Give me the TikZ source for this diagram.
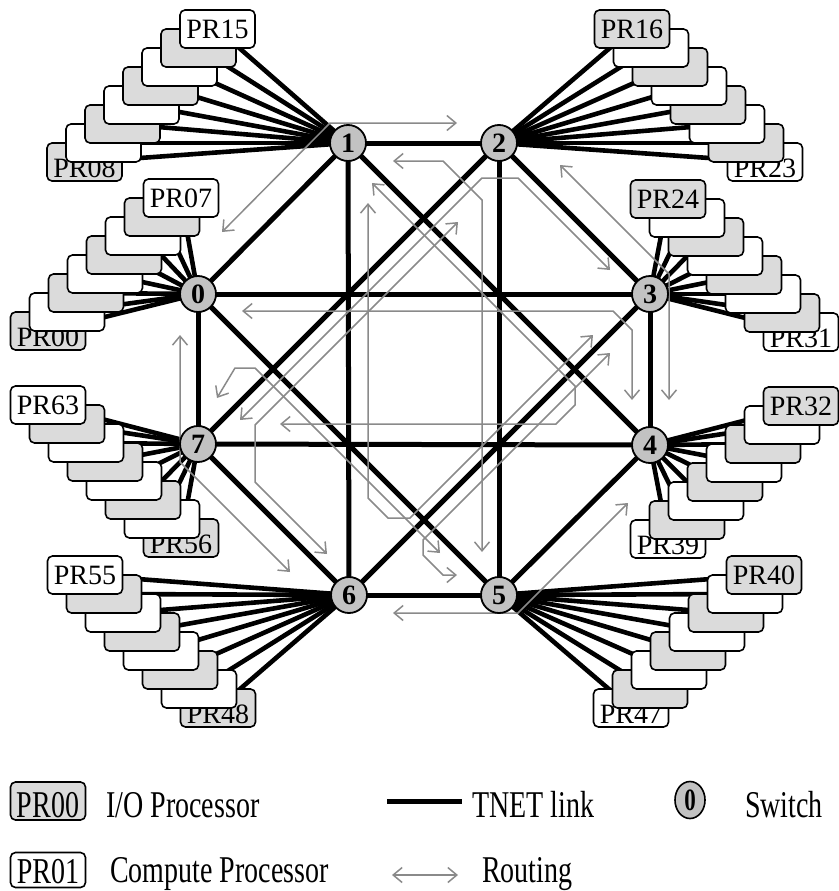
\documentclass[tikz,border=0pt]{standalone}
\usepackage{fontspec}
\setmainfont{Liberation Serif}
\usepackage{graphicx}
\usetikzlibrary{arrows.meta,shapes.geometric}
\pgfdeclarelayer{bg}
\pgfdeclarelayer{mid}
\pgfsetlayers{bg,mid,main}
\definecolor{iogray}{gray}{0.86}
\definecolor{swgray}{gray}{0.76}
\definecolor{routegray}{gray}{0.54}
\tikzset{
  proc/.style={draw, line width=1.6pt, rounded corners=5pt, minimum width=75pt,
    minimum height=38pt, inner sep=0pt, font=\fontsize{28}{30}\selectfont},
  switch/.style={circle, draw, line width=1.8pt, fill=swgray, minimum size=36pt,
    inner sep=0pt, font=\fontsize{28}{30}\selectfont\bfseries},
  tnet/.style={line width=5pt},
  plink/.style={line width=4.6pt},
  route/.style={draw=routegray, line width=1.5pt,
    {Straight Barb[length=9pt,width=15pt]}-{Straight Barb[length=9pt,width=15pt]}},
  lbl/.style={inner sep=0pt, font=\fontsize{28}{30}\selectfont},
}
% #1 Fx, #2 Fy, #3 dx, #4 dy, #5 first number, #6 number step
\newcommand\proccluster[6]{%
  \foreach \k in {0,...,7}{%
    \pgfmathtruncatemacro\n{#5+\k*(#6)}%
    \pgfmathsetmacro\px{#1+\k*(#3)}%
    \pgfmathsetmacro\py{#2+\k*(#4)}%
    \ifodd\n \def\fc{white}\else\def\fc{iogray}\fi
    \edef\nm{\ifnum\n<10 0\fi\n}%
    \node[proc, fill=\fc] (pr\nm) at (\px,\py) {\ifnum\k=7 PR\nm\fi};
    \ifnum\k=0 \node[lbl] (lab\nm) at (\px,\py+6) {PR\nm};\fi
  }%
}
\begin{document}
\begin{tikzpicture}[x=1pt,y=-1pt]
\useasboundingbox (0,0) rectangle (838,891);

% processor clusters (first drawn = covered, last drawn = labelled)
\proccluster{48}{331}{19}{-19}{0}{1}
\proccluster{84.5}{162}{19}{-19}{8}{1}
\proccluster{765}{162}{-19}{-19}{23}{-1}
\proccluster{801}{332}{-19}{-19}{31}{-1}
\proccluster{668}{539}{19}{-19}{39}{-1}
\proccluster{631}{708}{19}{-19}{47}{-1}
\proccluster{218}{708}{-19}{-19}{48}{1}
\proccluster{181}{538}{-19}{-19}{56}{1}

% switches
\node[switch] (s0) at (198,294) {0};
\node[switch] (s1) at (348,143) {1};
\node[switch] (s2) at (499,143) {2};
\node[switch] (s3) at (650,294) {3};
\node[switch] (s4) at (650,445) {4};
\node[switch] (s5) at (499,595) {5};
\node[switch] (s6) at (349,595) {6};
\node[switch] (s7) at (198,444) {7};

\begin{pgfonlayer}{bg}
  % TNET links between switches
  \foreach \a/\b in {0/1,1/2,2/3,3/4,4/5,5/6,6/7,7/0,0/3,7/4,1/6,2/5,1/4,2/7,0/5,3/6}
    \draw[tnet] (s\a.center) -- (s\b.center);
  % links to processors
  \foreach \s in {0,...,7}{
    \foreach \j in {0,...,7}{
      \pgfmathtruncatemacro\n{8*\s+\j}
      \edef\nm{\ifnum\n<10 0\fi\n}
      \draw[plink] (s\s.center) -- (pr\nm.center);
    }
  }
\end{pgfonlayer}

\begin{pgfonlayer}{mid}
  \draw[route] (222,232) -- (330,123) -- (457,123);
  \draw[route] (393,161) -- (443,161) -- (482,200) -- (482,552);
  \draw[route] (372,183) -- (575,386) -- (575,405) -- (556,424) -- (280,424);
  \draw[route] (240,420) -- (482,178) -- (518,178) -- (610,270);
  \draw[route] (458,222) -- (255,425) -- (255,482) -- (327,554);
  \draw[route] (560,165) -- (669,274) -- (669,400);
  \draw[route] (242,311) -- (613,311) -- (632,330) -- (632,400);
  \draw[route] (368,203) -- (368,498) -- (388,518) -- (410,518) -- (593,335);
  \draw[route] (610,353) -- (423,540) -- (423,555) -- (443,575) -- (457,575);
  \draw[route] (217,398) -- (235,368) -- (255,368) -- (440,553);
  \draw[route] (180,335) -- (180,462) -- (290,572);
  \draw[route] (628,503) -- (518,613) -- (393,613);
\end{pgfonlayer}

% legend
\node[proc, fill=iogray] (legio) at (48,801) {};
\node[lbl, anchor=base] (legiolab) at (48,817) {\scalebox{1}[1.35]{PR00}};
\node[lbl, anchor=base west] (legiotxt) at (106,817) {\scalebox{1}[1.35]{I/O Processor}};
\coordinate (tneta) at (387,801);
\coordinate (tnetb) at (462,801);
\draw[line width=5pt] (tneta) -- (tnetb);
\node[lbl, anchor=base west] (legtnet) at (472,817) {\scalebox{1}[1.35]{TNET link}};
\node[ellipse, draw, line width=1.6pt, fill=swgray, minimum width=30pt, minimum height=37pt,
  inner sep=0pt, font=\fontsize{23}{25}\selectfont\bfseries] (legsw) at (690,800) {\scalebox{1}[1.35]{0}};
\node[lbl, anchor=base west] (legswtxt) at (745,817) {\scalebox{1}[1.35]{Switch}};
\node[proc, fill=white, minimum height=35pt] (legcp) at (48,870) {};
\node[lbl, anchor=base] (legcplab) at (48,883) {\scalebox{1}[1.3]{PR01}};
\node[lbl, anchor=base west] (legcptxt) at (110,882) {\scalebox{1}[1.35]{Compute Processor}};
\coordinate (rta) at (392,875);
\coordinate (rtb) at (458,875);
\draw[route] (rta) -- (rtb);
\node[lbl, anchor=base west] (legrt) at (482,882) {\scalebox{1}[1.35]{Routing}};
\end{tikzpicture}
\end{document}
